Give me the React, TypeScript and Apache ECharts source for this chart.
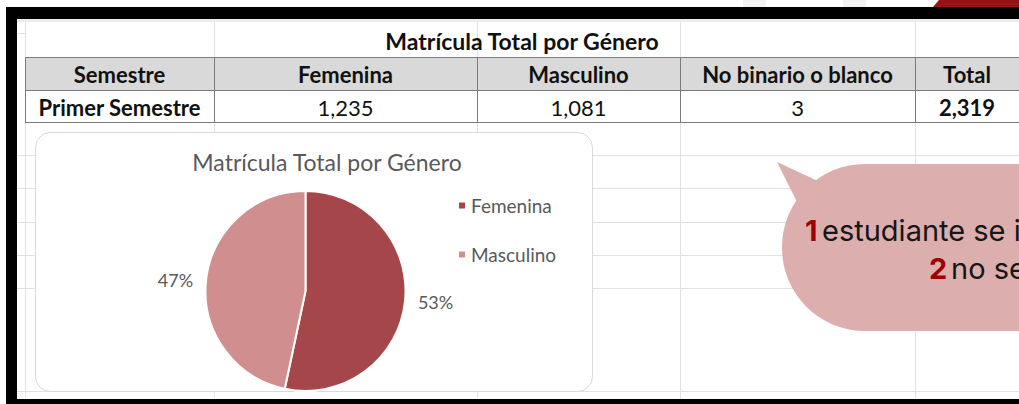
import React, { useEffect, useRef } from "react";
import * as echarts from "echarts";

const tableTitle = "Matrícula Total por Género";
const chartTitle = "Matrícula Total por Género";
const headerLabels = ["Semestre", "Femenina", "Masculino", "No binario o blanco", "Total"];
const semesterLabel = "Primer Semestre";
const genderValues = [1235, 1081, 3];
const totalValue = 2319;
const pieCategories = ["Femenina", "Masculino"];
const pieValues = [1235, 1081];
const pieColors = ["#a5474a", "#d18e8f"];
const noteCounts = ["1", "2"];
const noteTexts = ["estudiante se i", "no se"];

const fmt = (n: number) => n.toLocaleString("en-US");

export default function App() {
  const ref = useRef<HTMLDivElement>(null);
  useEffect(() => {
    document.body.style.margin = "0";
    if (!ref.current) return;
    const chart = echarts.init(ref.current, undefined, { renderer: "svg" });
    const F = "Lato, 'Open Sans', sans-serif";
    const colEdges = [25, 214, 477, 680, 915, 1019];
    const centers = colEdges.slice(0, 5).map((x, i) => (x + colEdges[i + 1]) / 2);
    const g: any[] = [];
    const line = (x1: number, y1: number, x2: number, y2: number, stroke: string, z = 0) =>
      g.push({ type: "line", z, silent: true, shape: { x1, y1, x2, y2 }, style: { stroke, lineWidth: 1 } });
    const grid = "#e2e2e2";
    // spreadsheet grid
    [155.5, 188.5, 222.5, 255.5, 288.5, 391.5].forEach((y) => line(17, y, 1019, y, grid));
    line(25.5, 20, 25.5, 399, grid);
    [214.5, 477.5, 680.5, 915.5].forEach((x) => {
      line(x, 20, x, 57, grid);
      line(x, 122, x, 399, grid);
    });
    [33.5].forEach((y) => line(17, y, 25, y, grid));
    // header fill
    g.push({ type: "rect", z: 1, silent: true, shape: { x: 25, y: 57, width: 994, height: 33 }, style: { fill: "#d9d9d9" } });
    const border = "#7b7b7b";
    [57.5, 90.5, 122.5].forEach((y) => line(25, y, 1019, y, border, 2));
    colEdges.slice(0, 5).forEach((x) => line(x + 0.5, 57, x + 0.5, 123, border, 2));
    const txt = (text: string, x: number, y: number, font: string, fill: string, align = "center", z = 3) =>
      g.push({ type: "text", z, silent: true, x, y, style: { text, font, fill, align, verticalAlign: "middle" } });
    txt(tableTitle, 522, 41, `bold 23px ${F}`, "#111");
    headerLabels.forEach((h, i) => txt(h, centers[i], 74, `bold 22px ${F}`, "#111"));
    txt(semesterLabel, centers[0], 107, `bold 22px ${F}`, "#111");
    genderValues.forEach((v, i) => txt(fmt(v), centers[i + 1], 107, `22px ${F}`, "#111"));
    txt(fmt(totalValue), centers[4], 107, `bold 22px ${F}`, "#111");
    // chart box
    g.push({ type: "rect", z: 1, silent: true, shape: { x: 35.5, y: 132.5, width: 557, height: 259, r: 15 }, style: { fill: "#fff", stroke: "#d9d9d9", lineWidth: 1 } });
    // frame
    g.push({ type: "rect", z: 1, silent: true, shape: { x: 6, y: 19, width: 1013, height: 3 }, style: { fill: "#ececec" } });
    g.push({ type: "rect", z: 5, silent: true, shape: { x: 6, y: 7, width: 1013, height: 12 }, style: { fill: "#000" } });
    g.push({ type: "rect", z: 5, silent: true, shape: { x: 6, y: 7, width: 11, height: 397 }, style: { fill: "#000" } });
    g.push({ type: "rect", z: 5, silent: true, shape: { x: 6, y: 399, width: 1013, height: 5 }, style: { fill: "#000" } });
    g.push({ type: "rect", z: 5, silent: true, shape: { x: 743, y: 0, width: 23, height: 7 }, style: { fill: "#f2f2f2" } });
    g.push({ type: "rect", z: 5, silent: true, shape: { x: 843, y: 0, width: 23, height: 7 }, style: { fill: "#f2f2f2" } });
    g.push({ type: "polygon", z: 5, silent: true, shape: { points: [[933, 7], [939, 0], [1019, 0], [1019, 7]] }, style: { fill: "#9a1114" } });
    // speech bubble
    const bub = "#dcaeae";
    g.push({ type: "rect", z: 3, silent: true, shape: { x: 782, y: 164, width: 400, height: 167, r: [83, 0, 0, 83] }, style: { fill: bub } });
    g.push({ type: "polygon", z: 3, silent: true, shape: { points: [[777, 162], [820, 182], [840, 215], [798, 204]] }, style: { fill: bub } });
    const BF = "Inter, 'Noto Sans', sans-serif";
    txt(noteCounts[0], 805, 230, `bold 29px ${BF}`, "#a10000", "left", 4);
    txt(noteTexts[0], 822, 230, `29px ${BF}`, "#161616", "left", 4);
    txt(noteCounts[1], 929, 268, `bold 29px ${BF}`, "#a10000", "left", 4);
    txt(noteTexts[1], 951, 268, `29px ${BF}`, "#161616", "left", 4);

    chart.setOption({
      animation: false,
      backgroundColor: "#fff",
      color: pieColors,
      title: {
        text: chartTitle,
        left: 327,
        top: 150,
        textAlign: "center",
        padding: 0,
        textStyle: { color: "#595959", fontSize: 23, fontWeight: "normal", fontFamily: F },
      },
      legend: {
        orient: "vertical",
        left: 457,
        top: 196,
        itemWidth: 8,
        itemHeight: 8,
        itemGap: 30,
        icon: "rect",
        padding: 0,
        selectedMode: false,
        textStyle: { color: "#595959", fontSize: 19, fontFamily: F },
        data: pieCategories,
      },
      graphic: { elements: g },
      series: [
        {
          type: "pie",
          z: 4,
          center: [305.5, 291],
          radius: 100,
          startAngle: 90,
          clockwise: true,
          percentPrecision: 0,
          silent: true,
          itemStyle: { borderColor: "#fff", borderWidth: 2 },
          label: { show: true, position: "outside", formatter: "{d}%", color: "#595959", fontSize: 18, fontFamily: F },
          labelLine: { show: false, length: 8, length2: 0 },
          emphasis: { disabled: true },
          data: pieCategories.map((name, i) => ({ name, value: pieValues[i] })),
        },
      ],
    });
    return () => chart.dispose();
  }, []);
  return <div ref={ref} style={{ width: 1019, height: 404 }} />;
}
